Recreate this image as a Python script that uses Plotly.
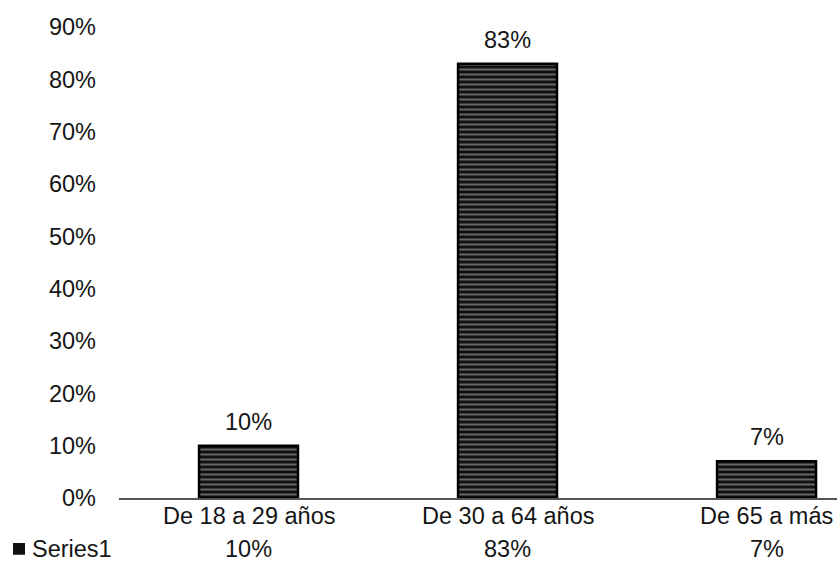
import plotly.graph_objects as go

categories = ["De 18 a 29 años", "De 30 a 64 años", "De 65 a más"]
values = [0.10, 0.83, 0.07]
value_labels = ["10%", "83%", "7%"]
series_name = "Series1"
y_ticks = [0, 0.1, 0.2, 0.3, 0.4, 0.5, 0.6, 0.7, 0.8, 0.9]
y_tick_labels = ["0%", "10%", "20%", "30%", "40%", "50%", "60%", "70%", "80%", "90%"]

FONT = "Liberation Sans, Arial, sans-serif"
TXT = "#151515"
FS = 23.5

fig = go.Figure()
fig.add_trace(go.Bar(
    x=categories,
    y=values,
    name=series_name,
    marker=dict(
        color="#111111",
        line=dict(color="#000000", width=2.5),
        pattern=dict(shape="-", fgcolor="#bdbdbd", bgcolor="#111111", size=5, solidity=0.4),
    ),
    width=0.382,
    showlegend=False,
))

# value labels above bars
for c, v, lab in zip(categories, values, value_labels):
    fig.add_annotation(x=c, y=v, xref="x", yref="y", text=lab, showarrow=False,
                       yanchor="middle", yshift=24, font=dict(size=FS, color=TXT, family=FONT))

# category labels (data table header)
for c in categories:
    fig.add_annotation(x=c, y=0, xref="x", yref="y", text=c, showarrow=False,
                       yanchor="middle", yshift=-18, font=dict(size=FS, color=TXT, family=FONT))

# data table row
for c, lab in zip(categories, value_labels):
    fig.add_annotation(x=c, y=0, xref="x", yref="y", text=lab, showarrow=False,
                       yanchor="middle", yshift=-51, font=dict(size=FS, color=TXT, family=FONT))
fig.add_annotation(x=-0.124, y=0, xref="paper", yref="y", text=series_name, showarrow=False,
                   xanchor="left", yanchor="middle", yshift=-51, font=dict(size=FS, color=TXT, family=FONT))
fig.add_shape(type="rect", xref="paper", yref="paper",
              x0=-0.1476, x1=-0.1309, y0=-0.108 - 0.0125, y1=-0.108 + 0.0125,
              fillcolor="#111111", line=dict(width=0))

fig.update_layout(
    width=837, height=561,
    margin=dict(l=119, r=0, t=27, b=63),
    paper_bgcolor="white", plot_bgcolor="white",
    font=dict(family=FONT, size=FS, color=TXT),
    xaxis=dict(
        range=[-0.5, 2.272],
        showgrid=False, zeroline=False,
        showline=True, linecolor="#555555", linewidth=2,
        ticks="", showticklabels=False,
    ),
    yaxis=dict(
        range=[0, 0.9],
        tickvals=y_ticks, ticktext=y_tick_labels,
        showgrid=False, zeroline=False, showline=False,
        ticks="", ticklabelstandoff=22,
        tickfont=dict(size=FS, color=TXT, family=FONT),
    ),
)

fig.write_html("out.html")
